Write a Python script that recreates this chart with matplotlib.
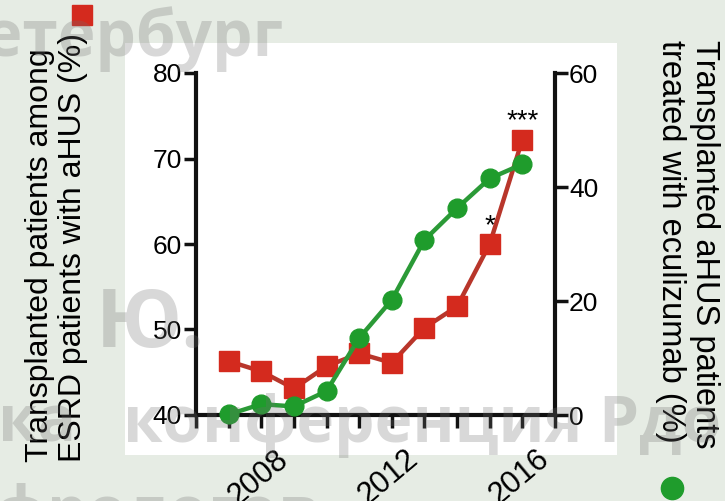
import matplotlib
matplotlib.use("Agg")
import matplotlib.pyplot as plt
from matplotlib.lines import Line2D
from matplotlib.patches import Rectangle

# ---- data ----
years = [2006, 2007, 2008, 2009, 2010, 2011, 2012, 2013, 2014, 2015]
esrd_pct = [46.3, 45.1, 43.1, 45.7, 47.2, 46.1, 50.2, 52.7, 60.0, 72.2]
ecu_pct = [0.1, 1.9, 1.5, 4.2, 13.5, 20.2, 30.7, 36.3, 41.5, 44.0]
year_ticks = list(range(2005, 2017))
year_labels = {2008: "2008", 2012: "2012", 2016: "2016"}
left_ticks = [40, 50, 60, 70, 80]
right_ticks = [0, 20, 40, 60]
signif = {2014: "*", 2015: "***"}

left_label = "Transplanted patients among\nESRD patients with aHUS (%)"
right_label = "Transplanted aHUS patients\ntreated with eculizumab (%)"

plt.rcParams['font.family'] = ['Liberation Sans', 'DejaVu Sans']

RED = '#d42a1e'
RED_LINE = '#b8362b'
GREEN = '#1f9c2c'
GREEN_LINE = '#2b9a37'

W, H = 725, 501
fig = plt.figure(figsize=(7.25, 5.01), dpi=100)
fig.patch.set_facecolor('#e6ece4')
fig.add_artist(Rectangle((125 / W, 1 - 455 / H), (617 - 125) / W, (455 - 43) / H,
                         transform=fig.transFigure, facecolor='white',
                         edgecolor='none', zorder=-1))

ax = fig.add_axes([196 / W, 1 - 415 / H, (555 - 196) / W, (415 - 73) / H])
ax.set_facecolor('none')
ax2 = ax.twinx()
ax2.set_facecolor('none')

ax.plot(years, esrd_pct, color=RED_LINE, lw=3.2, marker='s', ms=15,
        mfc=RED, mec=RED, clip_on=False, zorder=3)
ax2.plot(years, ecu_pct, color=GREEN_LINE, lw=3.2, marker='o', ms=13.5,
         mfc=GREEN, mec=GREEN, clip_on=False, zorder=3)

for yr, s in signif.items():
    i = years.index(yr)
    ax.annotate(s, xy=(yr, esrd_pct[i]), xytext=(0, 8), textcoords='offset points',
                ha='center', va='baseline', fontsize=20, color='black')

ax.set_xlim(2005, 2016)
ax.set_ylim(40, 80)
ax2.set_ylim(0, 60)
ax.set_yticks(left_ticks)
ax2.set_yticks(right_ticks)
ax.set_xticks(year_ticks)
ax.set_xticklabels([year_labels.get(y, "") for y in year_ticks],
                   rotation=40, ha='right', fontsize=22)

for a in (ax, ax2):
    a.tick_params(axis='both', direction='out', length=9, width=2.5,
                  labelsize=19, pad=1, color='#111111')
ax.tick_params(axis='x', labelsize=22, pad=12)

ax.spines['top'].set_visible(False)
ax.spines['right'].set_visible(False)
for s in ('top', 'left', 'bottom'):
    ax2.spines[s].set_visible(False)
for sp in (ax.spines['left'], ax.spines['bottom'], ax2.spines['right']):
    sp.set_linewidth(3)
    sp.set_color('#111111')

# axis titles
fig.text(56.5 / W, 1 - 248 / H, left_label, rotation=90, ha='center', va='center',
         multialignment='left', fontsize=23, linespacing=1.1)
fig.text(687.5 / W, 1 - 244.5 / H, right_label, rotation=270, ha='center', va='center',
         multialignment='left', fontsize=23.5, linespacing=1.1)

# legend-like markers next to titles
fig.add_artist(Line2D([82 / W], [1 - 15 / H], marker='s', ms=15, color=RED,
                      transform=fig.transFigure, linestyle='none'))
fig.add_artist(Line2D([672 / W], [1 - 488 / H], marker='o', ms=16, color=GREEN,
                      transform=fig.transFigure, linestyle='none'))

# watermark text
wm = dict(color='#707070', alpha=0.27, fontfamily=['Open Sans', 'DejaVu Sans'],
          fontweight='bold', zorder=20)
fig.text(283 / W, 1 - 56 / H, "Петербург", ha='right', va='baseline', fontsize=46, **wm)
fig.text(96 / W, 1 - 347 / H, "Ю.", ha='left', va='baseline', fontsize=58, **wm)
fig.text(-2 / W, 1 - 442 / H, "ка", ha='left', va='baseline', fontsize=46, **wm)
fig.text(123 / W, 1 - 442 / H, "конференция Рдо", ha='left', va='baseline', fontsize=46, **wm)
fig.text(-85 / W, 1 - 532 / H, "нефрологов", ha='left', va='baseline', fontsize=46, **wm)

fig.savefig("out.png", dpi=100, facecolor=fig.get_facecolor())
